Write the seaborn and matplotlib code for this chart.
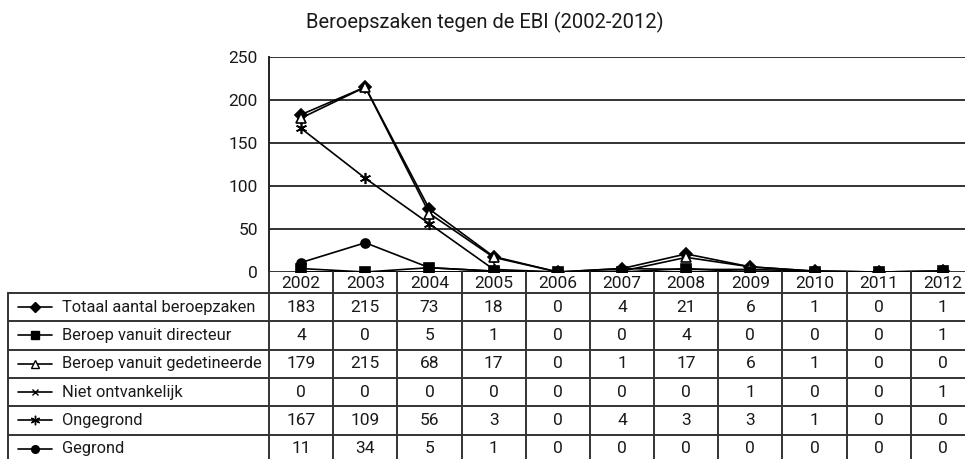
import numpy as np
import pandas as pd
import seaborn as sns
from matplotlib import pyplot as plt
from matplotlib.lines import Line2D

sns.set_style("white")
plt.rcParams['font.family'] = ['Roboto', 'DejaVu Sans']

jaren = ['2002', '2003', '2004', '2005', '2006', '2007', '2008', '2009', '2010', '2011', '2012']

reeksen = ['Totaal aantal beroepzaken', 'Beroep vanuit directeur', 'Beroep vanuit gedetineerde',
           'Niet ontvankelijk', 'Ongegrond', 'Gegrond']

totaal = [183, 215, 73, 18, 0, 4, 21, 6, 1, 0, 1]
directeur = [4, 0, 5, 1, 0, 0, 4, 0, 0, 0, 1]
gedetineerde = [179, 215, 68, 17, 0, 1, 17, 6, 1, 0, 0]
niet_ontvankelijk = [0, 0, 0, 0, 0, 0, 0, 1, 0, 0, 1]
ongegrond = [167, 109, 56, 3, 0, 4, 3, 3, 1, 0, 0]
gegrond = [11, 34, 5, 1, 0, 0, 0, 0, 0, 0, 0]

waarden = [totaal, directeur, gedetineerde, niet_ontvankelijk, ongegrond, gegrond]

# marker stijl per reeks: (marker, size, facecolor)
stijl = [('D', 6, 'black'), ('s', 6.5, 'black'), ('^', 7.5, 'white'),
         ('x', 5.5, 'black'), ((6, 2, 0), 8, 'black'), ('o', 6.5, 'black')]

W, H = 965, 459
fig = plt.figure(figsize=(W / 100, H / 100), dpi=100)
fs = 11.8

# grafiek
ax = fig.add_axes([269 / W, (H - 272) / H, (975 - 269) / W, (272 - 57) / H])
pos = np.arange(len(jaren))
for naam, vals, (m, ms, fc) in zip(reeksen, waarden, stijl):
    frame = pd.DataFrame({'pos': pos, 'aantal': vals})
    sns.lineplot(data=frame, x='pos', y='aantal', ax=ax, color='black', linewidth=1.2,
                 marker=m, markersize=ms, markerfacecolor=fc, markeredgecolor='black',
                 markeredgewidth=1.2, legend=False)

ax.set_xlim(-0.5, len(jaren) - 0.5)
ax.set_ylim(0, 250)
ax.set_yticks(range(0, 251, 50))
ax.set_xticks([])
ax.set_xlabel('')
ax.set_ylabel('')
ax.yaxis.grid(True, color='#333333', linewidth=1.4)
ax.set_axisbelow(True)
for s in ['top', 'right', 'bottom']:
    ax.spines[s].set_visible(False)
ax.spines['left'].set_color('#222222')
ax.spines['left'].set_linewidth(1.4)
ax.tick_params(axis='y', direction='out', length=6, width=1.2, color='#222222',
               labelsize=fs + 0.7, pad=2, labelcolor='#1a1a1a')
ax.set_title('Beroepszaken tegen de EBI (2002-2012)', fontsize=14.5, pad=21, x=0.305,
             color='#1a1a1a')

# tabel
tab = fig.add_axes([0, 0, 1, 1])
tab.set_xlim(0, W)
tab.set_ylim(H, 0)
tab.axis('off')

lijn = dict(color='#333333', linewidth=1.4)
col_w = (975 - 269) / len(jaren)
rijen = [293 + 28.3 * k for k in range(7)]

# horizontale lijnen
for y in rijen[:-1]:
    tab.plot([8, W], [y, y], **lijn)
# verticale lijnen
tab.plot([8, 8], [293, H], **lijn)
for i in range(len(jaren) + 1):
    x = 269 + col_w * i
    tab.plot([x, x], [272, H], **lijn)

for i, jaar in enumerate(jaren):
    tab.text(269 + col_w * (i + 0.5), 283, jaar, ha='center', va='center', fontsize=fs + 0.7,
             color='#1a1a1a')

for r, (naam, vals, (m, ms, fc)) in enumerate(zip(reeksen, waarden, stijl)):
    yc = (rijen[r] + rijen[r + 1]) / 2
    tab.add_line(Line2D([18, 52], [yc, yc], color='black', linewidth=1.2))
    tab.add_line(Line2D([35], [yc], marker=m, markersize=ms * 0.85, markerfacecolor=fc,
                        markeredgecolor='black', markeredgewidth=1.0))
    tab.text(62, yc, naam, ha='left', va='center', fontsize=fs, color='#1a1a1a')
    for i, v in enumerate(vals):
        tab.text(269 + col_w * (i + 0.5), yc, str(v), ha='center', va='center',
                 fontsize=fs + 0.7, color='#1a1a1a')

plt.savefig('out.png', dpi=100)
